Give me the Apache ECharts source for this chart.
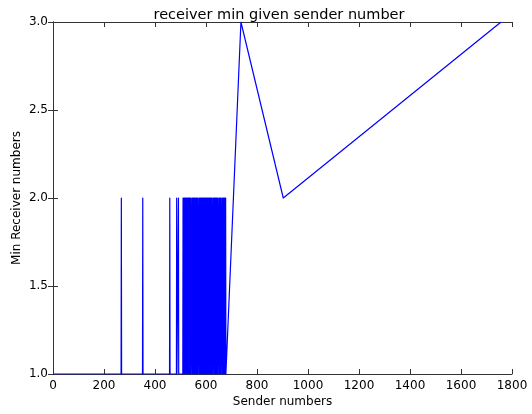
<!DOCTYPE html>
<html>
<head>
<meta charset="utf-8">
<script src="https://cdn.jsdelivr.net/npm/echarts@6/dist/echarts.min.js"></script>
<style>
  html, body { margin: 0; padding: 0; background: #fff; }
  #chart { width: 532px; height: 414px; }
</style>
</head>
<body>
<div id="chart"></div>
<script>
// sender number (x) and min receiver number (y)
const senders = [
  0,
  267, 268, 269,
  351, 352, 353,
  457, 458, 459,
  484, 485, 486,
  491, 492, 493,
  509, 510, 511, 512, 513, 514, 515, 516, 517, 518,
  519, 520, 521, 522, 523, 524, 525, 526, 527, 528,
  529, 530, 531, 532, 533, 534, 535, 536, 537, 538,
  539, 540, 541,
  544, 545, 546, 547, 548, 549, 550, 551, 552, 553,
  554, 555, 556, 557, 558, 559, 560, 561, 562, 563,
  564, 565, 566, 567, 568,
  571, 572, 573, 574, 575, 576, 577, 578, 579, 580,
  581, 582, 583, 584, 585, 586, 587, 588, 589, 590,
  591, 592, 593, 594, 595, 596, 597, 598, 599, 600,
  601, 602, 603, 604, 605, 606, 607, 608, 609, 610,
  611, 612, 613, 614, 615, 616, 617, 618, 619, 620,
  621, 622, 623, 624, 625,
  628, 629, 630, 631, 632, 633, 634, 635, 636, 637,
  638, 639, 640, 641, 642, 643, 644, 645, 646,
  649, 650, 651, 652, 653, 654, 655, 656, 657, 658,
  659,
  662, 663, 664, 665, 666, 667, 668, 669, 670, 671,
  672, 673, 674, 675, 676, 677, 678,
  682, 737, 903, 1757
];
const minReceivers = [
  1,
  1, 2, 1,
  1, 2, 1,
  1, 2, 1,
  1, 2, 1,
  1, 2, 1,
  1, 2, 1, 2, 1, 2, 1, 2, 1, 2,
  1, 2, 1, 2, 1, 2, 1, 2, 1, 2,
  1, 2, 1, 2, 1, 2, 1, 2, 1, 2,
  1, 2, 1,
  1, 2, 1, 2, 1, 2, 1, 2, 1, 2,
  1, 2, 1, 2, 1, 2, 1, 2, 1, 2,
  1, 2, 1, 2, 1,
  1, 2, 1, 2, 1, 2, 1, 2, 1, 2,
  1, 2, 1, 2, 1, 2, 1, 2, 1, 2,
  1, 2, 1, 2, 1, 2, 1, 2, 1, 2,
  1, 2, 1, 2, 1, 2, 1, 2, 1, 2,
  1, 2, 1, 2, 1, 2, 1, 2, 1, 2,
  1, 2, 1, 2, 1,
  1, 2, 1, 2, 1, 2, 1, 2, 1, 2,
  1, 2, 1, 2, 1, 2, 1, 2, 1,
  1, 2, 1, 2, 1, 2, 1, 2, 1, 2,
  1,
  1, 2, 1, 2, 1, 2, 1, 2, 1, 2,
  1, 2, 1, 2, 1, 2, 1,
  1, 3, 2, 3
];
const xTicks = { min: 0, max: 1800, interval: 200 };
const yTicks = { min: 1, max: 3, interval: 0.5 };

const chart = echarts.init(document.getElementById("chart"));
const font = "DejaVu Sans";
const frame = { show: true, lineStyle: { color: "#333", width: 1 } };
const tick = { show: true, inside: true, length: 5, lineStyle: { color: "#333" } };

const options = {
  animation: false,
  textStyle: { fontFamily: font },
  title: {
    text: "receiver min given sender number",
    left: 274,
    textAlign: "center",
    top: 3,
    textStyle: { fontFamily: font, fontSize: 14.5, fontWeight: "normal", color: "#000" },
  },
  grid: { left: 53, right: 20, top: 22, bottom: 40, outerBoundsMode: "none" },
  xAxis: [
    {
      type: "value",
      ...xTicks,
      name: "Sender numbers",
      nameLocation: "middle",
      nameGap: 22,
      nameMoveOverlap: false,
      nameTextStyle: { fontFamily: font, fontSize: 12, color: "#000" },
      axisLine: frame,
      axisTick: tick,
      splitLine: { show: false },
      axisLabel: {
        fontFamily: font, fontSize: 12, color: "#000", margin: 6,
        formatter: (v) => String(v),
      },
    },
    {
      type: "value",
      position: "top",
      ...xTicks,
      axisLine: frame,
      axisTick: tick,
      splitLine: { show: false },
      axisLabel: { show: false },
    },
  ],
  yAxis: [
    {
      type: "value",
      ...yTicks,
      name: "Min Receiver numbers",
      nameLocation: "middle",
      nameGap: 30,
      nameMoveOverlap: false,
      nameTextStyle: { fontFamily: font, fontSize: 12, color: "#000" },
      axisLine: frame,
      axisTick: tick,
      splitLine: { show: false },
      axisLabel: {
        fontFamily: font, fontSize: 12, color: "#000", margin: 5,
        formatter: (v) => v.toFixed(1),
      },
    },
    {
      type: "value",
      position: "right",
      ...yTicks,
      axisLine: frame,
      axisTick: tick,
      splitLine: { show: false },
      axisLabel: { show: false },
    },
  ],
  series: [
    {
      type: "line",
      xAxisIndex: 0,
      yAxisIndex: 0,
      showSymbol: false,
      symbol: "none",
      lineStyle: { color: "#0000ff", width: 1.2, join: "round" },
      data: senders.map((x, i) => [x, minReceivers[i]]),
    },
  ],
};
chart.setOption(options);
</script>
</body>
</html>
